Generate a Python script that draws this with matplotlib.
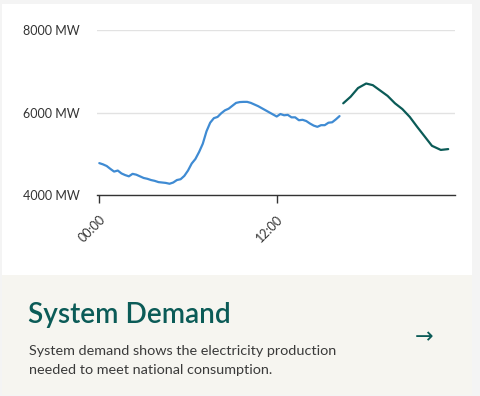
import matplotlib
matplotlib.use("Agg")
import matplotlib.pyplot as plt
from matplotlib.patches import Rectangle

# ---- data ----
actual_hours = [0.0, 0.25, 0.5, 0.75, 1.0, 1.25, 1.5, 1.75, 2.0, 2.25, 2.5, 2.75,
                3.0, 3.25, 3.5, 3.75, 4.0, 4.25, 4.5, 4.75, 5.0, 5.25, 5.5, 5.75,
                6.0, 6.25, 6.5, 6.75, 7.0, 7.25, 7.5, 7.75, 8.0, 8.25, 8.5, 8.75,
                9.0, 9.25, 9.5, 9.75, 10.0, 10.25, 10.5, 10.75, 11.0, 11.25, 11.5, 11.75,
                12.0, 12.25, 12.5, 12.75, 13.0, 13.25, 13.5, 13.75, 14.0, 14.25, 14.5, 14.75,
                15.0, 15.25, 15.5, 15.75, 16.0, 16.25]
actual_mw = [4780, 4750, 4710, 4640, 4575, 4600, 4530, 4490, 4460, 4520, 4500, 4460,
             4420, 4400, 4370, 4350, 4320, 4310, 4300, 4280, 4310, 4370, 4390, 4470,
             4600, 4770, 4880, 5050, 5250, 5550, 5760, 5870, 5900, 5990, 6060, 6100,
             6170, 6240, 6260, 6265, 6265, 6240, 6200, 6160, 6110, 6060, 6010, 5960,
             5910, 5970, 5940, 5950, 5890, 5890, 5820, 5830, 5800, 5740, 5690, 5660,
             5700, 5700, 5760, 5770, 5840, 5920]

forecast_hours = [16.5, 17.0, 17.5, 18.05, 18.5, 19.0, 19.5, 20.0, 20.5, 21.0,
                  21.5, 22.0, 22.5, 23.1, 23.6]
forecast_mw = [6230, 6390, 6600, 6710, 6670, 6540, 6410, 6230, 6090, 5900,
               5660, 5430, 5200, 5100, 5120]

y_ticks = [4000, 6000, 8000]
y_labels = ["4000 MW", "6000 MW", "8000 MW"]
x_ticks = [0, 12]
x_labels = ["00:00", "12:00"]

title = "System Demand"
body_lines = ["System demand shows the electricity production",
              "needed to meet national consumption."]

# ---- style ----
W, H = 480, 396
FONT = "Lato"
BLUE = "#3f8bd3"
TEAL = "#0b5b57"
TEXT = "#333333"

fig = plt.figure(figsize=(W / 100, H / 100), dpi=100)
fig.patch.set_facecolor("#f4f4f4")

# card background (white top, beige bottom)
fig.patches.append(Rectangle((2 / W, 1 - 275 / H), 470 / W, 271 / H,
                             transform=fig.transFigure, facecolor="white",
                             edgecolor="none", zorder=-2))
fig.patches.append(Rectangle((2 / W, 1 - 395 / H), 470 / W, 120 / H,
                             transform=fig.transFigure, facecolor="#f6f5f0",
                             edgecolor="none", zorder=-2))

ax = fig.add_axes([96.7 / W, 1 - 195.3 / H, (455 - 96.7) / W, (195.3 - 30.3) / H])
ax.set_facecolor("none")
ax.plot(actual_hours, actual_mw, color=BLUE, lw=1.6, solid_capstyle="round", zorder=3)
ax.plot(forecast_hours, forecast_mw, color=TEAL, lw=1.6, solid_capstyle="round", zorder=3)

ax.set_xlim(-0.176, 24.06)
ax.set_ylim(4000, 8000)
ax.set_yticks(y_ticks)
ax.set_yticklabels(y_labels, fontfamily=FONT, fontsize=9.0, color=TEXT)
ax.set_xticks(x_ticks)
ax.set_xticklabels(x_labels, fontfamily=FONT, fontsize=9.0, color=TEXT,
                   rotation=45, ha="right", va="top", rotation_mode="anchor")
ax.tick_params(axis="y", length=0, pad=12)
ax.tick_params(axis="x", length=6, width=1, color="#333333", pad=7)
ax.grid(axis="y", color="#e2e2e2", lw=1)
ax.set_axisbelow(True)
for s in ["left", "right", "top"]:
    ax.spines[s].set_visible(False)
ax.spines["bottom"].set_color("#333333")
ax.spines["bottom"].set_linewidth(1)

# texts
fig.text(28 / W, 1 - 323 / H, title, fontfamily=FONT, fontweight="semibold",
         fontsize=20.2, color=TEAL, ha="left", va="baseline")
for i, line in enumerate(body_lines):
    fig.text(29 / W, 1 - (355 + 19 * i) / H, line, fontfamily=FONT, fontsize=10.4,
             color="#3a3a3a", ha="left", va="baseline")
fig.text(424 / W, 1 - 337 / H, "\u2192", fontfamily="DejaVu Sans", fontsize=16,
         color=TEAL, ha="center", va="center")

fig.savefig("out.png", dpi=100, facecolor=fig.get_facecolor())
